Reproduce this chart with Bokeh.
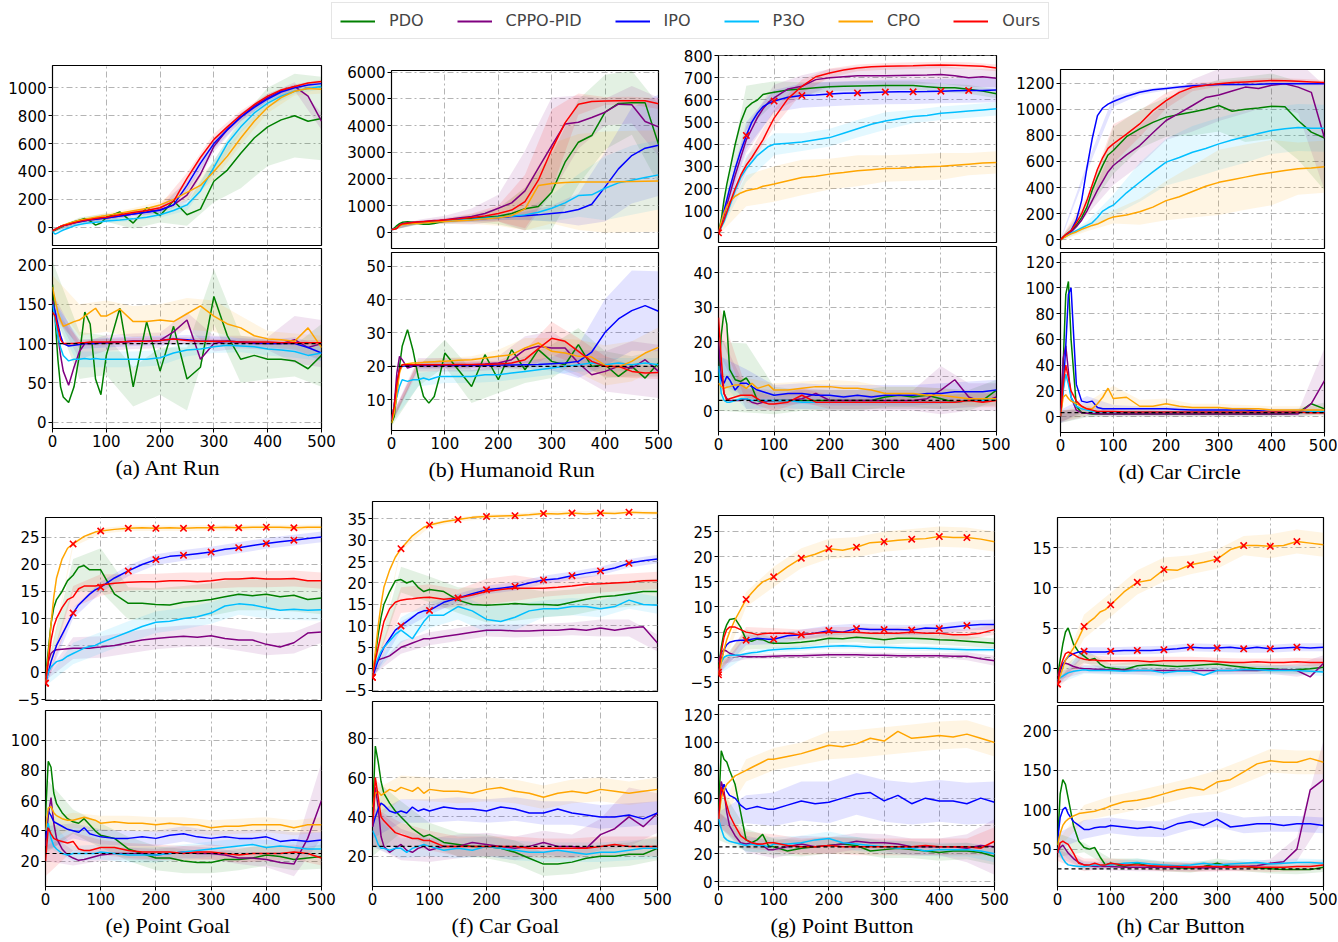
from bokeh.plotting import figure
from bokeh.layouts import column, row
from bokeh.models import FixedTicker, Title, Legend, LegendItem, Range1d, Span
from bokeh.embed import file_html
from bokeh.resources import INLINE

SERIES = ["PDO", "CPPO-PID", "IPO", "P3O", "CPO", "Ours"]
COLORS = ["#008000", "#800080", "#0000ff", "#00bfff", "#ffa500", "#ff0000"]
X = [0, 5, 10, 15, 20, 30, 40, 50, 60, 70, 80, 90, 100, 125, 150, 175, 200, 225, 250,
     275, 300, 325, 350, 375, 400, 425, 450, 475, 500]
XB = [0, 50, 100, 150, 200, 250, 300, 350, 400, 450, 500]
MARK_X = [0, 50, 100, 150, 200, 250, 300, 350, 400, 450]
X_TICKS = [0, 100, 200, 300, 400, 500]

# ---------------- (a) Ant Run ----------------
A_REW = {
    "PDO": [-30, -20, -10, 0, 10, 25, 40, 50, 62, 45, 15, 30, 70, 110, 30, 140, 84, 190, 90, 130, 330, 410, 530, 640, 720, 770, 800, 760, 780],
    "CPPO-PID": [-25, -15, -5, 5, 12, 22, 32, 40, 47, 53, 58, 62, 66, 80, 95, 110, 125, 160, 230, 380, 580, 700, 790, 870, 930, 980, 1010, 940, 760],
    "IPO": [-25, -15, -5, 5, 12, 22, 32, 40, 47, 53, 58, 62, 66, 80, 95, 108, 122, 160, 300, 460, 600, 700, 790, 860, 920, 970, 1000, 1020, 1030],
    "P3O": [-30, -50, -40, -30, -20, -5, 10, 20, 27, 32, 36, 40, 45, 52, 60, 72, 90, 120, 160, 260, 430, 600, 720, 820, 890, 940, 975, 995, 1010],
    "CPO": [-25, -15, -5, 5, 15, 28, 40, 50, 58, 65, 72, 78, 85, 100, 118, 135, 160, 200, 250, 300, 400, 510, 640, 760, 860, 930, 975, 995, 990],
    "Ours": [-25, -15, -5, 5, 12, 22, 32, 42, 50, 56, 62, 68, 72, 90, 105, 120, 140, 185, 350, 500, 630, 720, 805, 880, 940, 985, 1010, 1035, 1045],
}
A_REW_SD = {
    "PDO": [10, 20, 30, 40, 50, 80, 150, 250, 280, 300, 300],
    "CPPO-PID": [10, 15, 15, 20, 25, 50, 40, 30, 25, 30, 60],
    "IPO": [10, 10, 15, 15, 20, 40, 40, 30, 20, 20, 20],
    "P3O": [10, 15, 15, 15, 20, 40, 50, 40, 30, 20, 20],
    "CPO": [10, 15, 15, 20, 25, 60, 60, 50, 40, 30, 30],
    "Ours": [10, 10, 15, 15, 20, 40, 40, 30, 20, 15, 15],
}
A_COST = {
    "PDO": [175, 130, 80, 45, 32, 25, 45, 85, 140, 125, 55, 35, 85, 145, 45, 128, 65, 122, 55, 70, 160, 110, 80, 85, 80, 80, 78, 68, 85],
    "CPPO-PID": [155, 140, 110, 85, 65, 47, 70, 90, 100, 100, 100, 101, 101, 102, 103, 103, 104, 115, 130, 80, 100, 103, 102, 100, 100, 100, 105, 95, 100],
    "IPO": [150, 140, 125, 110, 100, 97, 98, 99, 100, 100, 100, 101, 101, 102, 103, 103, 104, 106, 105, 103, 103, 103, 102, 101, 100, 100, 100, 95, 88],
    "P3O": [150, 130, 110, 95, 85, 78, 80, 80, 81, 80, 81, 80, 80, 80, 80, 80, 82, 88, 92, 93, 96, 98, 97, 96, 93, 92, 90, 85, 88],
    "CPO": [172, 155, 140, 130, 122, 125, 128, 130, 135, 140, 145, 135, 135, 144, 128, 128, 130, 128, 138, 148, 135, 125, 120, 110, 106, 105, 103, 120, 95],
    "Ours": [140, 135, 120, 105, 100, 100, 100, 101, 101, 102, 102, 102, 102, 102, 103, 103, 104, 106, 104, 103, 103, 103, 102, 102, 102, 101, 101, 101, 101],
}
A_COST_SD = {
    "PDO": [30, 30, 25, 25, 30, 40, 35, 30, 25, 20, 40],
    "CPPO-PID": [10, 10, 10, 10, 10, 10, 10, 8, 8, 30, 30],
    "IPO": [8, 6, 6, 6, 6, 6, 6, 5, 5, 8, 10],
    "P3O": [10, 10, 10, 10, 10, 8, 8, 8, 8, 8, 10],
    "CPO": [15, 20, 20, 20, 20, 20, 20, 15, 10, 10, 15],
    "Ours": [5, 4, 4, 4, 4, 4, 3, 3, 3, 3, 4],
}

# ---------------- (b) Humanoid Run ----------------
B_REW = {
    "PDO": [100, 150, 250, 320, 370, 390, 370, 330, 300, 300, 330, 370, 410, 470, 520, 560, 600, 700, 880, 960, 1500, 2625, 3375, 3625, 4500, 4830, 4850, 4850, 3300],
    "CPPO-PID": [100, 120, 160, 260, 320, 350, 370, 390, 405, 420, 435, 450, 470, 530, 590, 700, 900, 1100, 1550, 2400, 3250, 4060, 4125, 4300, 4500, 4800, 4780, 4150, 3950],
    "IPO": [100, 110, 150, 250, 300, 320, 335, 350, 365, 380, 395, 405, 420, 450, 480, 515, 550, 585, 620, 650, 700, 750, 850, 1050, 1700, 2375, 2875, 3150, 3260],
    "P3O": [100, 110, 150, 240, 280, 300, 320, 340, 355, 370, 385, 400, 420, 450, 480, 520, 560, 600, 650, 750, 900, 1100, 1375, 1400, 1650, 1850, 1950, 2050, 2150],
    "CPO": [100, 110, 150, 230, 280, 300, 315, 330, 345, 360, 375, 390, 400, 430, 460, 500, 540, 620, 875, 1750, 1830, 1860, 1880, 1880, 1880, 1890, 1900, 1910, 1920],
    "Ours": [100, 110, 150, 260, 310, 340, 360, 380, 395, 410, 425, 440, 455, 500, 550, 610, 700, 830, 1150, 1950, 3100, 4100, 4800, 4900, 4920, 4930, 4930, 4930, 4820],
}
B_REW_SD = {
    "PDO": [30, 50, 80, 150, 300, 800, 1400, 1600, 1400, 1200, 1500],
    "CPPO-PID": [30, 80, 150, 300, 500, 1500, 1800, 1000, 500, 700, 1100],
    "IPO": [20, 40, 60, 80, 100, 150, 300, 600, 1300, 1800, 1900],
    "P3O": [20, 40, 60, 80, 100, 200, 500, 800, 1200, 1300, 1300],
    "CPO": [20, 40, 80, 150, 300, 800, 1500, 1800, 1900, 1900, 1900],
    "Ours": [30, 50, 80, 150, 300, 1000, 1500, 400, 150, 150, 200],
}
B_COST = {
    "PDO": [3, 5, 12, 20, 26, 31, 25, 17, 11, 9, 11, 17, 24, 19, 14, 23.5, 16, 25, 19, 25, 21.5, 20.5, 26.5, 20, 20.5, 17, 20, 16.5, 21],
    "CPPO-PID": [4, 8, 18, 23, 22, 19.5, 20, 20.5, 20.5, 20.5, 20.5, 20.5, 20.5, 20.5, 20.5, 20.7, 21, 22, 25, 26, 25.5, 25.5, 21, 17.5, 18.5, 20, 19.5, 22, 18.5],
    "IPO": [4, 8, 15, 19, 20, 20.2, 20.2, 20.3, 20.3, 20.3, 20.3, 20.3, 20.3, 20.3, 20.3, 20.3, 20.4, 20.4, 20.5, 20.6, 20.8, 21, 21.5, 24.3, 30.2, 34.2, 36.7, 38.2, 36.5],
    "P3O": [4, 8, 11, 14, 16, 15.5, 16, 16, 16.5, 16, 16.5, 17, 17, 17, 17, 17.5, 17.5, 18, 18.5, 19, 19.5, 20, 20.5, 21, 20.5, 21, 20.5, 21, 20.5],
    "CPO": [3, 6, 12, 18, 20.5, 20.8, 21, 21, 21.2, 21.3, 21.4, 21.5, 21.5, 21.8, 22, 22.5, 23, 23.5, 25.5, 27, 24.5, 24, 23, 22.8, 20.3, 19.8, 21.5, 24, 25.7],
    "Ours": [4, 8, 15, 19, 20.5, 20.5, 20.5, 20.5, 20.5, 20.5, 20.5, 20.5, 20.5, 20.6, 20.6, 20.6, 20.7, 21, 22, 25.3, 28.4, 27.5, 24.5, 21.5, 20, 20, 18.5, 18, 18.2],
}
B_COST_SD = {
    "PDO": [1, 3, 4, 5, 4, 4, 5, 5, 4, 3, 4],
    "CPPO-PID": [1, 2, 2, 2, 2, 4, 5, 4, 6, 8, 8],
    "IPO": [1, 1, 1, 1, 1, 1, 2, 5, 10, 12, 12],
    "P3O": [1, 2, 2, 2, 2, 2, 2, 2, 2, 2, 2],
    "CPO": [1, 1, 1, 1, 2, 3, 4, 5, 6, 6, 6],
    "Ours": [1, 1, 1, 1, 1, 3, 5, 4, 3, 2, 2],
}

# ---------------- (c) Ball Circle ----------------
C_REW = {
    "PDO": [0, 60, 150, 220, 280, 400, 500, 564, 586, 600, 625, 630, 635, 645, 650, 655, 660, 662, 663, 664, 665, 666, 665, 660, 655, 655, 648, 640, 628],
    "CPPO-PID": [0, 40, 80, 125, 170, 260, 340, 420, 470, 520, 560, 590, 609, 650, 662, 692, 700, 705, 710, 710, 710, 711, 712, 713, 715, 710, 700, 705, 698],
    "IPO": [0, 40, 100, 150, 200, 290, 370, 440, 500, 540, 570, 585, 595, 612, 620, 623, 627, 630, 632, 634, 636, 637, 637, 638, 640, 642, 643, 643, 645],
    "P3O": [0, 25, 50, 85, 120, 190, 250, 290, 320, 350, 370, 390, 400, 405, 410, 420, 430, 450, 470, 490, 505, 515, 525, 530, 540, 545, 550, 555, 560],
    "CPO": [0, 50, 90, 120, 140, 165, 180, 190, 195, 200, 210, 215, 220, 235, 250, 255, 265, 272, 280, 285, 290, 292, 295, 298, 300, 305, 310, 315, 318],
    "Ours": [0, 30, 60, 95, 130, 200, 260, 306, 340, 380, 420, 470, 518, 606, 662, 705, 722, 735, 745, 750, 752, 754, 755, 757, 758, 757, 755, 752, 745],
}
C_REW_SD = {
    "PDO": [20, 100, 50, 30, 20, 20, 20, 20, 20, 20, 20],
    "CPPO-PID": [20, 60, 60, 50, 40, 40, 40, 40, 40, 40, 40],
    "IPO": [20, 60, 50, 55, 55, 55, 55, 55, 55, 55, 55],
    "P3O": [10, 60, 50, 40, 40, 40, 40, 30, 30, 30, 30],
    "CPO": [10, 70, 80, 80, 70, 70, 60, 60, 60, 50, 50],
    "Ours": [10, 30, 40, 30, 20, 15, 15, 15, 15, 15, 15],
}
C_COST = {
    "PDO": [10, 22, 29, 25, 12, 9, 8.5, 9.5, 7, 3, 2.5, 2.8, 3, 3, 3, 3, 3, 3, 3, 3, 4, 4.5, 4, 4.5, 3.5, 2.5, 3, 3, 6],
    "CPPO-PID": [20, 10, 5, 3.5, 3, 3, 3, 3.5, 2.5, 2, 2.5, 2.8, 3, 3, 3.5, 5, 3, 3, 3, 3, 3, 3, 3, 3.5, 6, 9, 4, 2.5, 4],
    "IPO": [12, 9, 8, 10, 9, 6, 8, 8, 7, 6, 5.5, 5, 4.5, 5, 5, 4.5, 4.5, 4, 4.5, 4, 4.5, 4.5, 4.5, 5, 5, 5.5, 5.5, 5.5, 6],
    "P3O": [13, 5, 3, 2.5, 2.5, 3, 3.5, 3.5, 3, 3, 3, 3, 3, 3, 2.5, 2.5, 2.5, 2.5, 2.5, 2.5, 2.5, 2.5, 2.5, 2.5, 2.5, 2.5, 3, 3, 3.5],
    "CPO": [8, 7, 6.5, 6.8, 7, 7.5, 7.5, 6.5, 8, 6.5, 7, 7.5, 6, 6, 6.5, 7, 7, 6.5, 6.5, 6, 5, 5, 5, 4.5, 4.5, 4, 3.5, 3.5, 3.5],
    "Ours": [27, 15, 5, 3, 3.5, 4, 4.5, 4.5, 4.5, 3.5, 2.5, 2, 2, 2.5, 4.5, 2.5, 2.5, 2.5, 2.5, 2.5, 2.5, 2.5, 2.5, 2.5, 2.5, 2.5, 3, 2.5, 3],
}
C_COST_SD = {
    "PDO": [10, 10, 4, 3, 3, 3, 3, 3, 3, 3, 3],
    "CPPO-PID": [3, 3, 3, 3, 3, 3, 3, 3, 7, 4, 4],
    "IPO": [4, 4, 3, 3, 3, 3, 3, 3, 3, 3, 3],
    "P3O": [4, 3, 2, 2, 2, 2, 2, 2, 2, 2, 2],
    "CPO": [3, 3, 2, 2, 2, 2, 2, 2, 2, 2, 2],
    "Ours": [4, 2, 2, 2, 2, 2, 2, 2, 2, 2, 2],
}

# ---------------- (d) Car Circle ----------------
D_REW = {
    "PDO": [0, 20, 40, 55, 70, 110, 170, 250, 380, 480, 570, 650, 684, 790, 850, 900, 940, 960, 980, 1000, 1029, 985, 1000, 1010, 1024, 1020, 914, 825, 780],
    "CPPO-PID": [0, 18, 35, 48, 60, 100, 150, 220, 300, 380, 450, 520, 569, 650, 722, 820, 914, 970, 1029, 1090, 1110, 1140, 1170, 1160, 1185, 1195, 1170, 1130, 780],
    "IPO": [0, 15, 30, 50, 70, 150, 300, 550, 774, 952, 1010, 1040, 1060, 1100, 1130, 1150, 1160, 1170, 1180, 1185, 1190, 1190, 1190, 1192, 1195, 1195, 1195, 1195, 1195],
    "P3O": [0, 15, 25, 38, 50, 70, 90, 110, 130, 170, 220, 245, 265, 360, 441, 520, 595, 630, 671, 700, 735, 765, 790, 815, 837, 850, 860, 855, 855],
    "CPO": [0, 12, 25, 35, 45, 60, 80, 95, 110, 120, 140, 160, 175, 190, 215, 250, 300, 330, 370, 410, 440, 460, 480, 500, 515, 530, 545, 550, 560],
    "Ours": [0, 20, 40, 55, 70, 130, 200, 300, 420, 540, 630, 700, 735, 810, 888, 990, 1067, 1130, 1169, 1185, 1195, 1205, 1210, 1215, 1220, 1218, 1215, 1210, 1205],
}
D_REW_SD = {
    "PDO": [10, 30, 180, 150, 150, 180, 200, 250, 250, 300, 400],
    "CPPO-PID": [10, 30, 150, 150, 150, 200, 200, 200, 150, 200, 400],
    "IPO": [10, 30, 40, 20, 15, 15, 10, 10, 10, 10, 10],
    "P3O": [10, 30, 80, 150, 180, 200, 200, 200, 180, 180, 180],
    "CPO": [10, 30, 50, 100, 150, 200, 250, 250, 250, 200, 200],
    "Ours": [10, 30, 150, 100, 60, 30, 20, 20, 20, 20, 20],
}
D_COST = {
    "PDO": [0, 40, 95, 105, 60, 8, 3, 2.5, 2, 2, 2, 2, 2, 2, 2, 2, 2, 2, 2, 2, 2, 2, 2, 2, 2, 2, 3, 10, 6],
    "CPPO-PID": [0, 45, 55, 35, 15, 5, 3, 2.5, 2.3, 2.2, 2, 2, 2, 2, 2, 2, 2, 2, 2, 2, 2, 2, 2, 2, 2, 2, 2, 10, 28],
    "IPO": [0, 20, 55, 95, 100, 25, 12, 11, 12, 7, 6, 6, 6, 6, 6, 6, 6, 5.5, 5, 5, 5, 5, 5, 4.5, 4, 4, 4, 3.5, 3.5],
    "P3O": [0, 20, 33, 25, 15, 8, 6, 5, 4, 3.5, 3.5, 3.5, 3.5, 3.5, 3.5, 3.5, 3.5, 3.5, 3.5, 3.5, 3.5, 3.5, 3.5, 3.5, 3.5, 3.5, 4, 4, 4],
    "CPO": [0, 15, 17, 14, 12, 10, 8, 6, 6, 10, 15, 22, 14, 15, 8, 8, 10, 8, 7, 7, 7, 6, 6, 6, 5, 5, 5, 5, 5],
    "Ours": [0, 25, 40, 30, 20, 12, 8, 6, 5, 4, 4, 4, 4, 3.5, 3.5, 3.5, 3.5, 3.5, 3.5, 3.5, 3.5, 3.5, 3.5, 3.5, 3.5, 3.5, 3.5, 3, 3],
}
D_COST_SD = {
    "PDO": [5, 3, 2, 2, 2, 2, 2, 2, 2, 3, 5],
    "CPPO-PID": [5, 2, 2, 2, 2, 2, 2, 2, 2, 2, 25],
    "IPO": [5, 5, 3, 2, 2, 2, 2, 2, 2, 2, 2],
    "P3O": [4, 2, 2, 2, 2, 2, 2, 2, 2, 2, 2],
    "CPO": [4, 5, 10, 5, 4, 3, 3, 3, 3, 3, 3],
    "Ours": [4, 2, 2, 2, 2, 2, 2, 2, 2, 2, 2],
}

# ---------------- (e) Point Goal ----------------
E_REW = {
    "PDO": [-1, 4, 9, 12, 13.5, 15, 17, 18, 19.5, 19.8, 19, 19, 19, 14.5, 12.8, 12.8, 12.6, 12.5, 13, 13.2, 13.5, 14, 14.5, 14.2, 14.5, 14, 14.3, 13.5, 13.8],
    "CPPO-PID": [-1, 2, 3.5, 4, 4.2, 4.3, 4.4, 4.5, 4.5, 4.5, 4.5, 4.6, 4.7, 5, 5.5, 6, 6.3, 6.5, 6.7, 6.5, 6.8, 6.3, 6, 6, 5.2, 4.7, 5.5, 7.3, 7.5],
    "IPO": [-2, 0, 2, 3.5, 5, 7, 9, 11, 12.5, 13.5, 14.5, 15.3, 15.8, 17.5, 18.8, 20, 20.9, 21.5, 21.7, 22, 22.3, 22.8, 23.1, 23.5, 23.9, 24.2, 24.5, 24.8, 25.1],
    "P3O": [-2, 0, 1, 1.5, 2, 2.3, 3, 3.5, 4, 4.5, 4.8, 5, 5.5, 6.5, 7.5, 8.5, 9.3, 9.5, 10, 10.3, 11, 12.3, 12.7, 12.5, 12, 11.5, 11.7, 11.5, 11.6],
    "CPO": [-2, 3, 9, 14, 17.5, 21, 23, 23.8, 24.5, 25.2, 25.6, 26, 26.2, 26.5, 26.7, 26.8, 26.7, 26.8, 26.7, 26.8, 26.8, 26.9, 26.8, 26.9, 26.9, 26.9, 26.8, 26.9, 26.9],
    "Ours": [-2, 2, 6, 8.5, 10, 12, 13.5, 14, 15.5, 16, 16, 16, 16.2, 16.5, 16.7, 16.8, 16.8, 17, 17, 16.8, 17, 17.3, 17.3, 17.5, 17.3, 17.3, 17.4, 17, 17],
}
E_REW_SD = {
    "PDO": [1, 3, 4, 3, 3, 3, 3, 3, 3, 3, 3],
    "CPPO-PID": [0.5, 2, 2, 2, 2, 2, 2, 2, 2, 2, 2],
    "IPO": [0.5, 1, 1, 1, 1, 1, 1, 1, 1, 1, 1],
    "P3O": [0.5, 2, 2, 2, 2, 2, 2, 2, 2, 2, 2],
    "CPO": [0.5, 0.5, 0.5, 0.5, 0.5, 0.5, 0.5, 0.5, 0.5, 0.5, 0.5],
    "Ours": [1, 2, 2, 1.5, 1.5, 1.5, 1.5, 1.5, 1.5, 1.5, 1.5],
}
E_COST = {
    "PDO": [50, 86, 82, 65, 58, 52, 48, 46, 45, 48, 44, 40, 37, 35, 28, 25, 22, 22, 20, 19, 19, 21, 21, 22, 24, 23, 21, 22, 23],
    "CPPO-PID": [30, 50, 62, 45, 35, 28, 24, 22, 20.5, 21, 22, 23, 24, 25, 25, 25, 24, 25, 26, 25, 25, 24, 22, 22, 21, 19, 18, 35, 60],
    "IPO": [35, 53, 50, 46, 45, 43, 41, 40, 39, 42, 38, 37, 36, 35, 35, 36, 35, 37, 38, 36, 35, 36, 35, 35, 36, 33, 34, 33, 34],
    "P3O": [40, 45, 35, 30, 28, 25, 24, 25, 25, 25, 25, 25, 26, 25, 24, 24, 24, 25, 26, 27, 28, 29, 30, 31, 29, 30, 29, 28, 28],
    "CPO": [40, 55, 56, 52, 50, 48, 47, 47, 48, 49, 48, 47, 45, 46, 45, 45, 44, 45, 44, 44, 42, 43, 43, 44, 44, 44, 42, 44, 44],
    "Ours": [20, 42, 38, 35, 34, 33, 32, 33, 28, 27, 27, 28, 29, 29, 27, 26, 26, 26, 25, 26, 26, 25, 24, 25, 25, 25, 26, 25, 22],
}
E_COST_SD = {
    "PDO": [25, 8, 8, 8, 8, 8, 7, 7, 7, 7, 8],
    "CPPO-PID": [10, 5, 4, 4, 4, 4, 4, 4, 5, 8, 25],
    "IPO": [8, 5, 5, 5, 5, 5, 5, 5, 5, 5, 5],
    "P3O": [10, 5, 5, 5, 5, 5, 5, 5, 5, 5, 5],
    "CPO": [8, 5, 5, 5, 5, 5, 5, 5, 5, 5, 5],
    "Ours": [10, 6, 5, 5, 5, 5, 5, 5, 5, 5, 5],
}

# ---------------- (f) Car Goal ----------------
F_REW = {
    "PDO": [-1, 3, 8, 12, 15, 18, 20.5, 20.8, 20, 20.5, 19, 18, 18.5, 18, 16, 15, 14.8, 15, 15.2, 15, 15, 14.8, 15.5, 16.2, 16.8, 17, 17.5, 18, 18],
    "CPPO-PID": [-1, 1, 2, 2.3, 2.5, 3, 4, 5, 5.5, 6, 6.5, 7, 7, 7.5, 8, 8.5, 9, 9, 8.8, 8.8, 9, 9, 9.3, 9, 9.5, 9, 9.5, 9.8, 6],
    "IPO": [-2, 0, 2, 3.5, 5, 7, 9, 10, 11, 12, 13, 13.5, 13.6, 15.5, 16.5, 17.5, 18.4, 18.8, 19.2, 20, 20.7, 21, 21.7, 22.3, 22.8, 23.5, 24.6, 25.2, 25.6],
    "P3O": [-1, 1, 2.5, 4, 5, 6.5, 8, 9, 8, 7, 9, 11, 12.5, 12.5, 14.5, 13.5, 11.5, 11, 12, 13.5, 14, 14, 14.5, 14.5, 14, 14.5, 16, 15, 14.8],
    "CPO": [-2, 4, 10, 15, 19, 23, 26, 28, 29.5, 31, 32, 33, 33.5, 34.3, 34.8, 35.3, 35.5, 35.6, 35.7, 35.9, 36.2, 36.1, 36.3, 36.1, 36.3, 36.2, 36.5, 36.4, 36.3],
    "Ours": [-2, 2, 5, 8, 11, 14, 15.5, 16, 16.2, 16.3, 16.5, 16.6, 16.7, 16.2, 16.5, 17.2, 18, 18.5, 18.8, 18.8, 18.8, 19, 19.3, 19.7, 19.8, 20, 20.2, 20.5, 20.6],
}
F_REW_SD = {
    "PDO": [1, 3, 3, 3, 4, 4, 3, 3, 3, 3, 3],
    "CPPO-PID": [0.5, 1.5, 1.5, 1.5, 1.5, 1.5, 1.5, 1.5, 2, 2, 2],
    "IPO": [0.5, 1, 1, 1, 1, 1, 1, 1, 1, 1, 1],
    "P3O": [1, 3, 3, 3, 3, 3, 2, 2, 2, 2, 2],
    "CPO": [0.5, 0.5, 0.5, 0.5, 0.5, 0.5, 0.5, 0.5, 0.5, 0.5, 0.5],
    "Ours": [1, 3, 3, 2, 3, 3, 2, 2, 2, 2, 2],
}
F_COST = {
    "PDO": [40, 76, 68, 58, 52, 47, 43, 40, 37, 34, 32, 30, 31, 27, 26, 25, 25, 24, 22, 19, 16, 16, 17, 19, 20, 20, 21, 21, 24],
    "CPPO-PID": [35, 55, 45, 30, 25, 22, 24, 26, 23, 22, 24, 25, 23, 25, 25, 27, 26, 25, 24, 25, 27, 25, 25, 24, 31, 34, 40, 35, 42],
    "IPO": [35, 40, 44, 47, 46, 43, 42, 43, 42, 45, 43, 44, 43, 45, 44, 44, 43, 45, 44, 42, 42, 44, 42, 41, 40, 40, 41, 39, 42],
    "P3O": [33, 30, 26, 24, 24, 23, 24, 24, 22, 24, 25, 26, 25, 23, 24, 23, 25, 24, 23, 22, 22, 23, 22, 21, 22, 22, 23, 24, 24],
    "CPO": [45, 52, 53, 51, 52, 54, 53, 55, 54, 53, 55, 52, 54, 53, 53, 52, 54, 55, 53, 52, 50, 52, 53, 52, 54, 53, 52, 53, 54],
    "Ours": [35, 60, 50, 40, 38, 35, 32, 31, 30, 29, 29, 28, 28, 25, 25, 25, 25, 25, 25, 24, 24, 24, 24, 24, 25, 26, 25, 25, 25],
}
F_COST_SD = {
    "PDO": [20, 8, 6, 6, 6, 6, 6, 6, 6, 6, 6],
    "CPPO-PID": [10, 8, 6, 6, 6, 6, 6, 6, 8, 15, 10],
    "IPO": [6, 6, 6, 6, 6, 6, 6, 6, 6, 6, 6],
    "P3O": [8, 5, 5, 5, 5, 5, 5, 5, 5, 5, 5],
    "CPO": [8, 6, 6, 6, 6, 6, 6, 6, 6, 6, 6],
    "Ours": [10, 6, 5, 5, 5, 5, 5, 5, 5, 5, 5],
}

# ---------------- (g) Point Button ----------------
G_REW = {
    "PDO": [-2, 2, 5, 6.5, 7.5, 7.7, 6, 3.5, 3.2, 3.6, 3.5, 3, 2.8, 2.8, 3, 3.3, 3.8, 3.7, 4, 3.8, 3.5, 3.8, 3.8, 3.7, 3.5, 3.4, 3.2, 3, 2.8],
    "CPPO-PID": [-1, 1, 1.5, 1.2, 0.8, 0.4, 0.2, 0.1, 0.1, 0.1, 0.1, 0.15, 0.2, 0.3, 0.3, 0.4, 0.5, 0.5, 0.5, 0.4, 0.4, 0.3, 0.3, 0.3, 0.3, 0.2, 0.2, -0.3, -0.7],
    "IPO": [-3, -0.5, 1.5, 2.5, 3, 3.3, 3.4, 3.4, 3.6, 3.8, 3.7, 3.6, 3.6, 4.3, 4.5, 4.8, 5.3, 5, 5.7, 5.5, 5.5, 5.5, 5.4, 5.8, 5.7, 6, 6.3, 6.5, 6.5],
    "P3O": [-3, -1, 0, 0.3, 0.4, 0.4, 0.5, 0.7, 0.9, 1, 1.2, 1.4, 1.5, 1.7, 1.8, 2, 2.2, 2.3, 2.2, 2, 2, 1.9, 1.8, 1.8, 1.7, 1.6, 1.5, 1.5, 1.5],
    "CPO": [-3.5, -1, 1.5, 3.5, 5, 7.5, 9.5, 11.5, 12.8, 14, 15, 15.5, 16, 18, 19.7, 20.5, 21.6, 21.3, 21.9, 22.8, 23, 23.3, 23.5, 23.6, 24, 23.8, 23.8, 23.5, 23],
    "Ours": [-3, 1, 4, 5.5, 6, 6, 5.5, 5, 4.8, 4.5, 4.7, 4.8, 4.8, 4.8, 4.5, 4.8, 5, 5, 5, 4.8, 4.8, 4.8, 5, 4.8, 4.8, 4.5, 4.5, 4.8, 5.5],
}
G_REW_SD = {
    "PDO": [0.5, 2, 1, 1, 1, 1, 1, 1, 1, 1, 1],
    "CPPO-PID": [0.5, 0.5, 0.5, 0.5, 0.5, 0.5, 0.5, 0.5, 0.5, 0.8, 1],
    "IPO": [0.5, 1, 1, 1, 1, 1, 1, 1, 1, 1, 1],
    "P3O": [0.5, 0.5, 0.5, 0.5, 0.5, 0.5, 0.5, 0.5, 0.5, 0.5, 0.5],
    "CPO": [0.5, 1.5, 2, 2, 2, 2, 2, 2, 2, 2, 2],
    "Ours": [0.5, 1, 1, 1, 1, 1, 1, 1, 1, 1, 1],
}
G_COST = {
    "PDO": [50, 94, 88, 86, 80, 70, 50, 30, 28, 30, 34, 26, 25, 22, 24, 25, 26, 27, 26, 22, 23, 24, 23, 22, 21, 22, 22, 21, 18],
    "CPPO-PID": [45, 72, 65, 50, 40, 33, 28, 27, 28, 27, 26, 23, 23, 25, 27, 25, 26, 27, 29, 28, 28, 27, 25, 25, 25, 25, 24, 26, 25],
    "IPO": [45, 65, 70, 65, 62, 60, 55, 52, 53, 54, 53, 52, 52, 55, 58, 56, 57, 60, 63, 64, 58, 62, 56, 60, 58, 58, 56, 60, 57],
    "P3O": [45, 38, 32, 30, 29, 28, 27, 26, 27, 26, 26, 25, 27, 27, 28, 30, 31, 28, 27, 26, 25, 24, 24, 22, 23, 23, 23, 22, 20],
    "CPO": [45, 60, 66, 70, 72, 76, 78, 80, 82, 84, 86, 88, 88, 90, 92, 95, 98, 97, 99, 103, 101, 108, 103, 104, 105, 104, 106, 103, 100],
    "Ours": [45, 68, 62, 55, 48, 40, 33, 30, 28, 27, 27, 28, 28, 26, 25, 25, 26, 25, 25, 25, 25, 25, 25, 26, 25, 25, 25, 24, 29],
}
G_COST_SD = {
    "PDO": [20, 8, 6, 6, 6, 6, 6, 6, 6, 6, 6],
    "CPPO-PID": [5, 6, 6, 6, 6, 6, 6, 6, 6, 10, 20],
    "IPO": [5, 10, 12, 14, 15, 15, 15, 15, 15, 15, 15],
    "P3O": [5, 5, 5, 5, 5, 5, 5, 5, 5, 5, 6],
    "CPO": [5, 8, 8, 8, 10, 10, 10, 10, 10, 10, 10],
    "Ours": [5, 6, 6, 6, 6, 6, 6, 6, 6, 6, 10],
}

# ---------------- (h) Car Button ----------------
H_REW = {
    "PDO": [-1, 1, 3, 4.5, 5, 3, 2, 1.5, 1, 1.2, 0.5, 0.1, 0, -0.2, 0.3, 0.4, 0.3, 0.2, 0.3, 0.4, 0.5, 0.3, 0.1, -0.1, -0.1, -0.2, -0.2, -0.1, 0.1],
    "CPPO-PID": [-1, 0, 0.5, 0.6, 0.5, 0.2, 0, -0.1, -0.1, -0.15, -0.15, -0.2, -0.2, -0.25, -0.3, -0.3, -0.3, -0.3, -0.3, -0.3, -0.3, -0.3, -0.3, -0.3, -0.2, -0.2, -0.3, -1.1, 0.6],
    "IPO": [-2, -0.5, 0.5, 1, 1.4, 1.8, 2, 2.1, 2, 2, 2, 2, 2.1, 2.2, 2.2, 2.2, 2.3, 2.4, 2.6, 2.5, 2.5, 2.6, 2.4, 2.6, 2.4, 2.5, 2.6, 2.5, 2.6],
    "P3O": [-1.5, -1.2, -1, -0.8, -0.6, -0.4, -0.3, -0.2, -0.3, -0.3, -0.3, -0.3, -0.3, -0.4, -0.3, -0.3, -0.6, -0.4, -0.4, -0.9, -0.3, -0.3, -0.2, -0.2, -0.3, -0.3, -0.3, -0.4, -0.5],
    "CPO": [-2, -1, 0, 1, 1.5, 2.5, 3.8, 5.2, 5.8, 6.3, 7, 7.3, 7.9, 9.5, 10.7, 11, 12.3, 12.2, 12.9, 13.2, 13.6, 14.8, 15.3, 15.3, 15.2, 15.3, 15.8, 15.6, 15.4],
    "Ours": [-2, 0, 1, 1.8, 2, 1.7, 1.3, 1.1, 1, 1, 0.9, 0.9, 0.9, 0.9, 0.9, 0.8, 0.9, 0.9, 0.9, 0.9, 0.8, 0.7, 0.7, 0.8, 0.7, 0.7, 0.8, 0.7, 0.7],
}
H_REW_SD = {
    "PDO": [0.5, 0.8, 0.5, 0.5, 0.5, 0.5, 0.5, 0.5, 0.5, 0.5, 0.5],
    "CPPO-PID": [0.5, 0.5, 0.5, 0.5, 0.5, 0.5, 0.5, 0.5, 0.5, 0.8, 1],
    "IPO": [0.3, 0.5, 0.5, 0.5, 0.5, 0.5, 0.5, 0.5, 0.5, 0.5, 0.5],
    "P3O": [0.5, 0.5, 0.5, 0.5, 0.5, 0.6, 0.5, 0.5, 0.5, 0.5, 0.5],
    "CPO": [0.5, 1.5, 1.5, 1.5, 1.5, 1.2, 1.2, 1.2, 1.5, 1.5, 1.5],
    "Ours": [0.5, 0.6, 0.5, 0.5, 0.5, 0.5, 0.5, 0.5, 0.5, 0.5, 0.5],
}
H_COST = {
    "PDO": [55, 120, 138, 132, 115, 80, 60, 52, 50, 52, 40, 30, 32, 28, 32, 28, 28, 26, 26, 28, 32, 28, 28, 26, 25, 24, 24, 24, 27],
    "CPPO-PID": [45, 52, 55, 50, 45, 38, 33, 30, 29, 28, 28, 28, 28, 27, 27, 27, 27, 27, 27, 26, 27, 28, 28, 29, 32, 34, 50, 125, 138],
    "IPO": [60, 90, 100, 103, 95, 85, 80, 75, 75, 77, 78, 78, 80, 78, 76, 78, 75, 82, 85, 80, 88, 78, 80, 82, 82, 80, 82, 82, 80],
    "P3O": [52, 45, 38, 33, 30, 29, 28, 28, 29, 30, 29, 30, 30, 32, 33, 31, 30, 29, 30, 32, 30, 31, 32, 33, 31, 32, 33, 33, 32],
    "CPO": [55, 70, 80, 85, 88, 92, 95, 96, 97, 98, 100, 102, 105, 110, 112, 115, 120, 125, 128, 125, 135, 138, 148, 158, 162, 160, 160, 165, 160],
    "Ours": [45, 58, 60, 58, 56, 45, 32, 30, 30, 32, 30, 30, 32, 30, 30, 29, 28, 28, 27, 28, 28, 27, 28, 27, 27, 27, 28, 28, 30],
}
H_COST_SD = {
    "PDO": [15, 6, 6, 6, 6, 6, 6, 6, 6, 6, 6],
    "CPPO-PID": [5, 5, 5, 5, 5, 5, 5, 5, 5, 15, 50],
    "IPO": [10, 12, 10, 10, 10, 10, 10, 10, 10, 10, 10],
    "P3O": [5, 5, 5, 5, 5, 5, 5, 5, 5, 5, 5],
    "CPO": [5, 10, 12, 12, 12, 12, 15, 15, 15, 15, 15],
    "Ours": [10, 8, 6, 6, 6, 6, 6, 6, 6, 6, 6],
}

TASKS = ["a", "b", "c", "d", "e", "f", "g", "h"]
CAPTIONS = {"a": "(a)  Ant Run", "b": "(b)  Humanoid Run", "c": "(c)  Ball Circle", "d": "(d)  Car Circle",
            "e": "(e)  Point Goal", "f": "(f)  Car Goal", "g": "(g)  Point Button", "h": "(h)  Car Button"}
REW = {"a": A_REW, "b": B_REW, "c": C_REW, "d": D_REW, "e": E_REW, "f": F_REW, "g": G_REW, "h": H_REW}
REW_SD = {"a": A_REW_SD, "b": B_REW_SD, "c": C_REW_SD, "d": D_REW_SD, "e": E_REW_SD, "f": F_REW_SD, "g": G_REW_SD, "h": H_REW_SD}
COST = {"a": A_COST, "b": B_COST, "c": C_COST, "d": D_COST, "e": E_COST, "f": F_COST, "g": G_COST, "h": H_COST}
COST_SD = {"a": A_COST_SD, "b": B_COST_SD, "c": C_COST_SD, "d": D_COST_SD, "e": E_COST_SD, "f": F_COST_SD, "g": G_COST_SD, "h": H_COST_SD}
LIMITS = {"a": 100, "b": 20, "c": 3, "d": 3, "e": 25, "f": 25, "g": 25, "h": 25}
MARKED = {"c": ["IPO"], "e": ["CPO", "IPO"], "f": ["CPO", "IPO"], "g": ["CPO", "IPO"], "h": ["CPO", "IPO"]}
REW_TICKS = {"a": [0, 200, 400, 600, 800, 1000], "b": [0, 1000, 2000, 3000, 4000, 5000, 6000],
             "c": [0, 100, 200, 300, 400, 500, 600, 700, 800], "d": [0, 200, 400, 600, 800, 1000, 1200],
             "e": [-5, 0, 5, 10, 15, 20, 25], "f": [-5, 0, 5, 10, 15, 20, 25, 30, 35],
             "g": [-5, 0, 5, 10, 15, 20, 25], "h": [0, 5, 10, 15]}
COST_TICKS = {"a": [0, 50, 100, 150, 200], "b": [10, 20, 30, 40, 50], "c": [0, 10, 20, 30, 40],
              "d": [0, 20, 40, 60, 80, 100, 120], "e": [20, 40, 60, 80, 100], "f": [20, 40, 60, 80],
              "g": [0, 20, 40, 60, 80, 100, 120], "h": [50, 100, 150, 200]}

# axis extents and layout (styling)
REW_RANGE = {"a": (-131, 1160), "b": (-611, 6064), "c": (-44, 801), "d": (-67, 1305),
             "e": (-5.2, 28.7), "f": (-5.3, 39.0), "g": (-8.6, 28.2), "h": (-4.3, 18.8)}
COST_RANGE = {"a": (-8, 221), "b": (0.8, 54.1), "c": (-6, 47.6), "d": (-12.4, 127.5),
              "e": (3.2, 119.5), "f": (4.6, 98.7), "g": (-3.5, 127.3), "h": (2.6, 232)}
# (left border, frame width, right border, top border, top frame h, gap, bottom frame h, bottom border)
GEOM = {"a": (52, 269, 16, 23, 180, 3, 180, 62), "b": (54, 267, 15, 28, 178, 4, 178, 60),
        "c": (45, 278, 14, 13, 187, 4, 185, 59), "d": (50, 264, 13, 27, 179, 4, 180, 58),
        "e": (45, 276, 15, 27, 183, 10, 176, 55), "f": (36, 285, 15, 11, 190, 10, 185, 55),
        "g": (46, 276, 15, 25, 185, 4, 182, 55), "h": (48, 266, 14, 27, 185, 3, 181, 55)}
# caption left edge, measured from the frame's left edge (px)
CAP_OFFSET = {"a": 63, "b": 37, "c": 61, "d": 58, "e": 60, "f": 79, "g": 52, "h": 59}

for d in list(REW.values()) + list(COST.values()):
    for k, v in d.items():
        assert len(v) == len(X), (k, len(v))
for d in list(REW_SD.values()) + list(COST_SD.values()):
    for k, v in d.items():
        assert len(v) == len(XB), (k, len(v))


def make_fig(width, height, borders, yr, yticks):
    lb, rb, tb, bb = borders
    p = figure(width=width, height=height, x_range=Range1d(0, 500), y_range=Range1d(*yr),
               output_backend="svg", toolbar_location=None,
               min_border_left=lb, min_border_right=rb, min_border_top=tb, min_border_bottom=bb)
    p.xaxis.ticker = FixedTicker(ticks=X_TICKS)
    p.yaxis.ticker = FixedTicker(ticks=yticks)
    p.xgrid.ticker = FixedTicker(ticks=X_TICKS)
    p.ygrid.ticker = FixedTicker(ticks=yticks)
    for ax in p.axis:
        ax.axis_line_color = None
        ax.major_tick_line_color = "black"
        ax.major_tick_out = 4
        ax.major_tick_in = 0
        ax.minor_tick_out = 0
        ax.minor_tick_in = 0
        ax.major_label_text_font = "DejaVu Sans"
        ax.major_label_text_font_size = "15px"
        ax.major_label_text_color = "black"
        ax.major_label_standoff = 2
    p.grid.grid_line_color = "#b4b4b4"
    p.grid.grid_line_dash = "6 3 2 3"
    p.grid.grid_line_width = 1
    p.outline_line_color = "black"
    p.outline_line_width = 1.2
    p.border_fill_color = "white"
    return p


def draw(p, data, sd, marked, limit):
    for name, color in zip(SERIES, COLORS):
        ys = data[name]
        cen = [ys[X.index(b)] for b in XB]
        p.varea(x=XB, y1=[c - s for c, s in zip(cen, sd[name])], y2=[c + s for c, s in zip(cen, sd[name])],
                fill_color=color, fill_alpha=0.11)
    for name, color in zip(SERIES, COLORS):
        p.line(X, data[name], line_color=color, line_width=1.5)
    if limit is not None:
        p.add_layout(Span(location=limit, dimension="width", line_color="black",
                          line_dash="4 3", line_width=1.2))
    for name in marked:
        ys = data[name]
        p.scatter(MARK_X, [ys[X.index(m)] for m in MARK_X], marker="x", size=9,
                  line_color="#ff0000", line_width=1.6)


cols = []
for key in TASKS:
    lb, w, rb, t, ht, gap, hb, bb = GEOM[key]
    top = make_fig(lb + w + rb, t + ht + gap - 1, (lb, rb, t, gap - 1), REW_RANGE[key], REW_TICKS[key])
    top.xaxis.visible = False
    draw(top, REW[key], REW_SD[key], MARKED.get(key, []), None)
    bot = make_fig(lb + w + rb, 1 + hb + bb, (lb, rb, 1, bb), COST_RANGE[key], COST_TICKS[key])
    draw(bot, COST[key], COST_SD[key], [], LIMITS[key])
    bot.add_layout(Title(text=CAPTIONS[key], align="left", offset=CAP_OFFSET[key],
                         text_font="Liberation Serif", text_font_size="22px",
                         text_font_style="normal", text_color="black", standoff=7), "below")
    cols.append(column(top, bot, spacing=0))

total_w = sum(GEOM[k][0] + GEOM[k][1] + GEOM[k][2] for k in TASKS[:4])
leg = figure(width=total_w, height=42, x_range=Range1d(0, 1), y_range=Range1d(0, 1),
             x_axis_type=None, y_axis_type=None, output_backend="svg", toolbar_location=None,
             min_border=0, outline_line_color=None)
items = []
for name, color in zip(SERIES, COLORS):
    # legend-only sample line, kept outside the visible range
    r = leg.line(x=[-3, -2], y=[-3, -2], line_color=color, line_width=2)
    items.append(LegendItem(label=name, renderers=[r]))
legend = Legend(items=items, orientation="horizontal", location=(331, 3),
                label_text_font="DejaVu Sans", label_text_font_size="16px",
                glyph_width=35, glyph_height=18, label_standoff=14, spacing=33,
                padding=8, margin=0, border_line_color="#cccccc", border_line_width=1,
                background_fill_color="white", background_fill_alpha=1)
leg.add_layout(legend)

layout = column(leg, row(*cols[:4], spacing=0), row(*cols[4:], spacing=0), spacing=0)

with open("out.html", "w") as f:
    f.write(file_html(layout, INLINE))
